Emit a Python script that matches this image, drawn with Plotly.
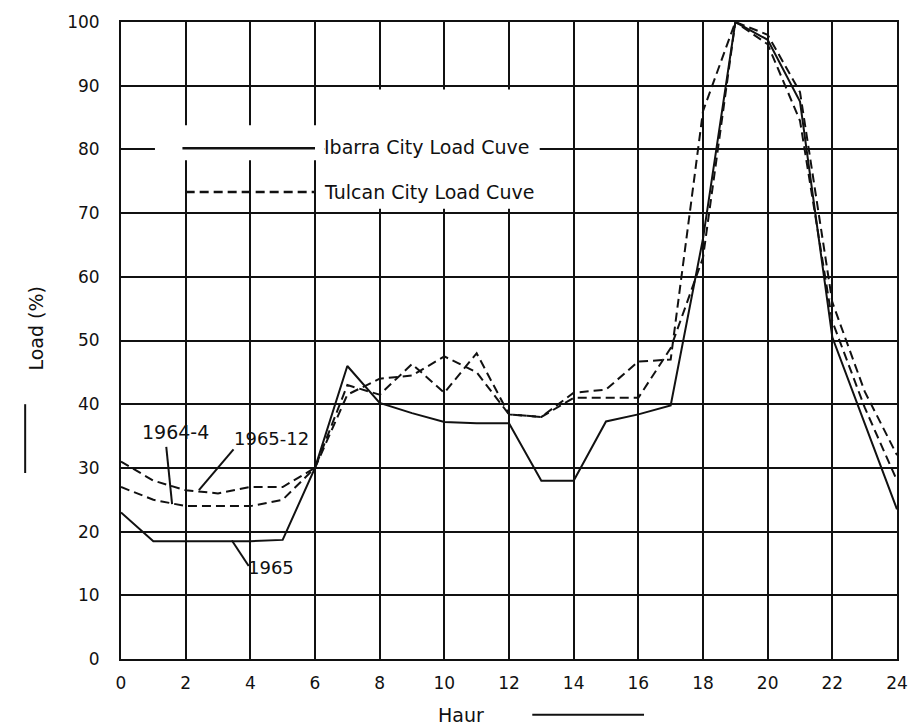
import plotly.graph_objects as go

hours = list(range(0, 25))
ibarra_1965 = [23, 18.5, 18.5, 18.5, 18.5, 18.7, 30, 46, 40.2, 38.6, 37.2, 37, 37,
               28, 28, 37.3, 38.4, 39.8, 66, 100, 97.2, 87.5, 50.5, 37, 23.5]
tulcan_1965_12 = [31, 28, 26.5, 26, 27, 27, 30, 43, 41.5, 46.3, 41.8, 48, 38.4,
                  38, 41.8, 42.3, 46.7, 47, 86, 100, 98, 89, 56, 42, 32]
tulcan_1964_4 = [27, 25, 24, 24, 24, 25, 30, 41.5, 44, 44.5, 47.5, 45, 38.4,
                 38, 41, 41, 41, 48.8, 63, 100, 96.5, 84.5, 53, 39.5, 28]

x_ticks = list(range(0, 25, 2))
y_ticks = list(range(0, 101, 10))

FONT = "DejaVu Sans"
BLACK = "#111111"

fig = go.Figure()
fig.add_trace(go.Scatter(x=hours, y=ibarra_1965, mode="lines",
                         line=dict(color=BLACK, width=2), showlegend=False))
fig.add_trace(go.Scatter(x=hours, y=tulcan_1965_12, mode="lines",
                         line=dict(color=BLACK, width=2, dash="9px,5px"), showlegend=False))
fig.add_trace(go.Scatter(x=hours, y=tulcan_1964_4, mode="lines",
                         line=dict(color=BLACK, width=2, dash="9px,5px"), showlegend=False))

shapes = [
    # white patches interrupting the grid around the key
    dict(type="rect", xref="x", yref="y", x0=1.05, x1=6.3, y0=78.3, y1=83.8,
         fillcolor="white", line=dict(width=0), layer="between"),
    dict(type="rect", xref="x", yref="y", x0=6.3, x1=12.95, y0=70.7, y1=89.4,
         fillcolor="white", line=dict(width=0), layer="between"),
    # key samples
    dict(type="line", xref="x", yref="y", x0=1.9, x1=6.0, y0=80.2, y1=80.2,
         line=dict(color=BLACK, width=2.5)),
    dict(type="line", xref="x", yref="y", x0=2.0, x1=6.0, y0=73.3, y1=73.3,
         line=dict(color=BLACK, width=2.5, dash="9px,5px")),
    # callout pointers
    dict(type="line", xref="x", yref="y", x0=1.4, y0=33.3, x1=1.58, y1=24.3,
         line=dict(color=BLACK, width=2)),
    dict(type="line", xref="x", yref="y", x0=3.48, y0=32.9, x1=2.41, y1=26.5,
         line=dict(color=BLACK, width=2)),
    dict(type="line", xref="x", yref="y", x0=3.43, y0=18.6, x1=3.95, y1=14.6,
         line=dict(color=BLACK, width=2)),
    # axis arrows
    dict(type="line", xref="paper", yref="paper", x0=-0.1235, x1=-0.1235, y0=0.292, y1=0.40,
         line=dict(color=BLACK, width=2)),
    dict(type="line", xref="paper", yref="paper", x0=0.53, x1=0.674, y0=-0.0875, y1=-0.0875,
         line=dict(color=BLACK, width=2)),
]

annotations = [
    dict(x=6.22, y=80.3, xref="x", yref="y", text="Ibarra City Load Cuve", showarrow=False,
         xanchor="left", yanchor="middle", font=dict(family=FONT, size=19, color=BLACK)),
    dict(x=6.22, y=73.3, xref="x", yref="y", text="Tulcan City Load Cuve", showarrow=False,
         xanchor="left", yanchor="middle", font=dict(family=FONT, size=19, color=BLACK)),
    dict(x=1.68, y=35.7, xref="x", yref="y", text="1964-4", showarrow=False,
         font=dict(family=FONT, size=19, color=BLACK)),
    dict(x=4.65, y=34.6, xref="x", yref="y", text="1965-12", showarrow=False,
         font=dict(family=FONT, size=18, color=BLACK)),
    dict(x=4.65, y=14.4, xref="x", yref="y", text="1965", showarrow=False,
         font=dict(family=FONT, size=18, color=BLACK)),
    dict(x=-0.126, y=0.519, xref="paper", yref="paper", text="Load (%)", showarrow=False,
         textangle=-90, font=dict(family=FONT, size=19, color=BLACK)),
    dict(x=0.438, y=-0.0875, xref="paper", yref="paper", text="Haur", showarrow=False,
         yanchor="middle", font=dict(family=FONT, size=19, color=BLACK)),
]

fig.update_layout(
    width=920, height=727,
    margin=dict(l=121, r=13, t=19, b=68),
    paper_bgcolor="white", plot_bgcolor="white",
    shapes=shapes, annotations=annotations,
    font=dict(family=FONT, size=17, color=BLACK),
)
fig.update_xaxes(range=[0, 24], tickvals=x_ticks, ticktext=[str(v) for v in x_ticks],
                 showgrid=True, gridcolor=BLACK, gridwidth=2,
                 showline=True, linecolor=BLACK, linewidth=2, mirror=True,
                 ticks="", ticklabelstandoff=8, zeroline=False,
                 tickfont=dict(family=FONT, size=17, color=BLACK))
fig.update_yaxes(range=[0, 100], tickvals=y_ticks, ticktext=[str(v) for v in y_ticks],
                 showgrid=True, gridcolor=BLACK, gridwidth=2,
                 showline=True, linecolor=BLACK, linewidth=2, mirror=True,
                 ticks="", ticklabelstandoff=16, zeroline=False,
                 tickfont=dict(family=FONT, size=17, color=BLACK))

fig.write_html("out.html")
